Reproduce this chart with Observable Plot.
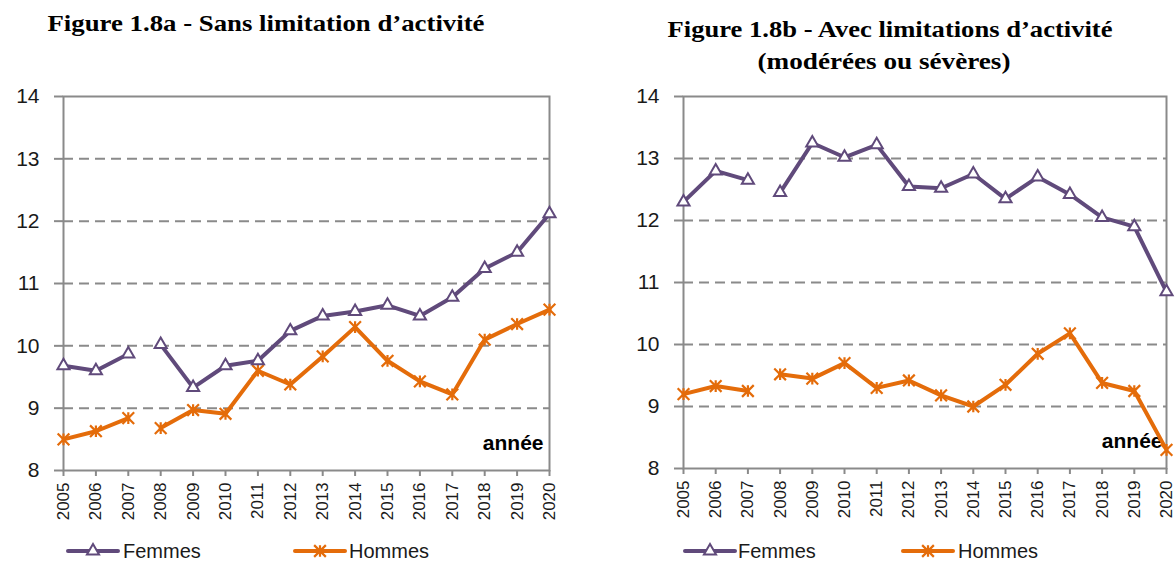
<!DOCTYPE html>
<html>
<head>
<meta charset="utf-8">
<script src="https://cdn.jsdelivr.net/npm/d3@7"></script>
<script src="https://cdn.jsdelivr.net/npm/@observablehq/plot@0.6"></script>
<style>
  body { margin: 0; width: 1176px; height: 563px; position: relative; background: #fff; overflow: hidden; }
  #titles { position: absolute; left: 0; top: 0; }
  .chart { position: absolute; top: 80px; }
  #legend { position: absolute; left: 0; top: 530px; }
</style>
</head>
<body>
<svg id="titles" width="1176" height="80"></svg>
<div class="chart" id="left" style="left:0px"></div>
<div class="chart" id="right" style="left:600px"></div>
<svg id="legend" width="1176" height="33"></svg>
<script>
// ---- data ----
const years = [2005, 2006, 2007, 2008, 2009, 2010, 2011, 2012, 2013, 2014, 2015, 2016, 2017, 2018, 2019, 2020];
const series = ["Femmes", "Hommes"];
const yTicks = [8, 9, 10, 11, 12, 13, 14];
const gridTicks = [9, 10, 11, 12, 13];
const breakAfter = 2007; // lines are interrupted between 2007 and 2008
const axisLabel = "année";
const titleA = "Figure 1.8a - Sans limitation d’activité";
const titleB1 = "Figure 1.8b - Avec limitations d’activité";
const titleB2 = "(modérées ou sévères)";

// Figure 1.8a - Sans limitation d'activité
const femmesSans = [9.68, 9.6, 9.87, 10.02, 9.33, 9.68, 9.76, 10.24, 10.48, 10.55, 10.65, 10.48, 10.78, 11.24, 11.5, 12.12];
const hommesSans = [8.5, 8.63, 8.84, 8.68, 8.97, 8.91, 9.6, 9.38, 9.83, 10.3, 9.76, 9.43, 9.22, 10.1, 10.35, 10.58];

// Figure 1.8b - Avec limitations d'activité
const femmesAvec = [12.3, 12.8, 12.65, 12.45, 13.25, 13.02, 13.22, 12.55, 12.52, 12.75, 12.35, 12.7, 12.42, 12.05, 11.9, 10.85];
const hommesAvec = [9.2, 9.33, 9.25, 9.52, 9.45, 9.7, 9.3, 9.42, 9.18, 9.0, 9.35, 9.85, 10.18, 9.38, 9.25, 8.3];

// ---- styles ----
const purple = "#604A7B";
const orange = "#E46C0A";
const gray = "#8a8a8a";
const sans = "'Liberation Sans', Arial, sans-serif";

// Excel-like star marker: an × crossed by a vertical bar
const star = {
  draw(context, size) {
    const r = Math.sqrt(size) * 0.6;
    context.moveTo(-r, -r); context.lineTo(r, r);
    context.moveTo(-r, r); context.lineTo(r, -r);
    context.moveTo(0, -r); context.lineTo(0, r);
  }
};

// ---- titles ----
const titles = d3.select("#titles");
[[titleA, 266, 31, 437], [titleB1, 890, 37, 445], [titleB2, 884, 69, 253]].forEach(([t, x, y, len]) => {
  titles.append("text").attr("x", x).attr("y", y).attr("text-anchor", "middle")
    .attr("font-family", "'Liberation Serif', 'Times New Roman', serif").attr("font-weight", "bold")
    .attr("font-size", 24).attr("textLength", len).attr("lengthAdjust", "spacingAndGlyphs")
    .attr("fill", "#000").text(t);
});

function table(f, h) {
  const rows = [];
  years.forEach((y, i) => {
    rows.push({year: y, value: f[i], series: series[0]});
    rows.push({year: y, value: h[i], series: series[1]});
  });
  return rows;
}

function chart(f, h, opts) {
  const data = table(f, h);
  return Plot.plot({
    width: opts.width,
    height: 450,
    marginLeft: opts.marginLeft,
    marginRight: opts.marginRight,
    marginTop: 16,
    marginBottom: opts.marginBottom,
    style: {fontFamily: sans, color: "#1a1a1a", background: "#fff", overflow: "visible"},
    x: {domain: [years[0], years[years.length - 1]]},
    y: {domain: [yTicks[0], yTicks[yTicks.length - 1]]},
    color: {domain: series, range: [purple, orange]},
    marks: [
      Plot.gridY(gridTicks, {stroke: gray, strokeOpacity: 1, strokeWidth: 2, strokeDasharray: "10,6"}),
      Plot.frame({stroke: gray, strokeWidth: 2}),
      Plot.axisY({ticks: yTicks, tickFormat: d => String(d), tickSize: 9, tickPadding: 15, fontSize: 21,
                  stroke: gray, strokeWidth: 2, fill: "#1a1a1a", label: null}),
      Plot.axisX({ticks: years, tickFormat: d => String(d), tickRotate: -90, tickSize: 6, tickPadding: 6, fontSize: 17,
                  stroke: gray, strokeWidth: 2, fill: "#1a1a1a", label: null}),
      Plot.text([axisLabel], {frameAnchor: "bottom-right", dx: opts.labelDx, dy: -21, fontSize: 21, fontWeight: "bold", fill: "#000", textAnchor: "end"}),
      Plot.line(data, {x: "year", y: "value", stroke: "series",
                       z: d => d.series + (d.year <= breakAfter ? "-a" : "-b"), strokeWidth: 4, strokeLinejoin: "round"}),
      Plot.dot(data.filter(d => d.series === series[1]), {x: "year", y: "value", symbol: star, r: 5.5, stroke: orange, strokeWidth: 2.2}),
      Plot.dot(data.filter(d => d.series === series[0]), {x: "year", y: "value", symbol: "triangle", r: 4.5, fill: "#fff", stroke: purple, strokeWidth: 2})
    ]
  });
}

document.getElementById("left").append(chart(femmesSans, hommesSans, {width: 560, marginLeft: 63, marginRight: 11, marginBottom: 60, labelDx: -6}));
document.getElementById("right").append(chart(femmesAvec, hommesAvec, {width: 576, marginLeft: 83, marginRight: 10, marginBottom: 62, labelDx: -4}));

// ---- legends ----
const legend = d3.select("#legend");
const legendItems = [
  {x0: 68, tx: 123, s: series[0], c: purple, sym: "triangle"},
  {x0: 295, tx: 349, s: series[1], c: orange, sym: "star"},
  {x0: 685, tx: 738, s: series[0], c: purple, sym: "triangle"},
  {x0: 903, tx: 958, s: series[1], c: orange, sym: "star"}
];
const ly = 21;
legendItems.forEach(it => {
  legend.append("line").attr("x1", it.x0).attr("x2", it.x0 + 50).attr("y1", ly).attr("y2", ly)
    .attr("stroke", it.c).attr("stroke-width", 4).attr("stroke-linecap", "round");
  const cx = it.x0 + 25;
  if (it.sym === "triangle") {
    legend.append("path").attr("transform", `translate(${cx},${ly})`)
      .attr("d", d3.symbol(d3.symbolTriangle, Math.PI * 4.5 * 4.5)())
      .attr("fill", "#fff").attr("stroke", it.c).attr("stroke-width", 2);
  } else {
    legend.append("path").attr("transform", `translate(${cx},${ly})`)
      .attr("d", d3.symbol(star, Math.PI * 5.5 * 5.5)())
      .attr("fill", "none").attr("stroke", it.c).attr("stroke-width", 2.2);
  }
  legend.append("text").attr("x", it.tx).attr("y", ly + 7)
    .attr("font-family", sans).attr("font-size", 20).attr("fill", "#1a1a1a")
    .text(it.s);
});
</script>
</body>
</html>
